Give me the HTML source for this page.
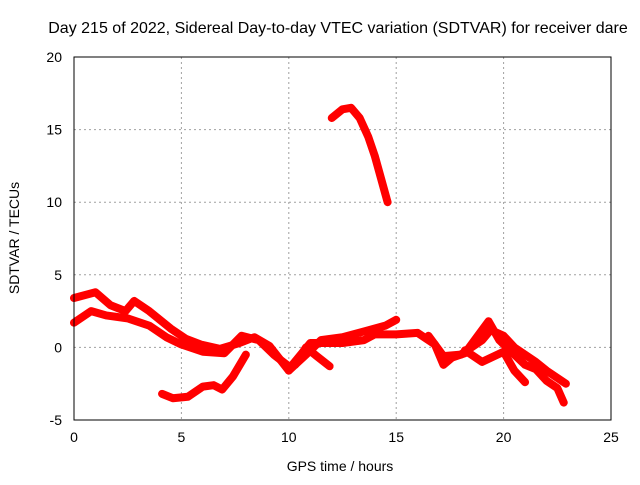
<!DOCTYPE html>
<html><head><meta charset="utf-8"><style>
body{margin:0;background:#fff;font-family:"Liberation Sans",sans-serif}
svg text{font-family:"Liberation Sans",sans-serif;font-size:14px;fill:#000}
</style></head><body>
<svg id="c" width="640" height="480">
<text x="338" y="33" text-anchor="middle" style="font-size:16px">Day 215 of 2022, Sidereal Day-to-day VTEC variation (SDTVAR) for receiver dare</text>
<text x="340" y="471" text-anchor="middle">GPS time / hours</text>
<text transform="translate(19,238) rotate(-90)" text-anchor="middle">SDTVAR / TECUs</text>
<g id="grid"></g><g id="data"></g>
<rect x="74" y="57" width="537" height="363" fill="none" stroke="#000" stroke-width="1"/>
</svg>
<script>
const xTicks=[0,5,10,15,20,25];
const yTicks=[-5,0,5,10,15,20];
const seriesArc=[[12,15.8],[12.5,16.4],[12.9,16.5],[13.3,15.8],[13.7,14.5],[14,13.2],[14.3,11.6],[14.6,10]];
const seriesA=[[0,3.4],[1,3.8],[1.7,2.9],[2.4,2.5],[2.8,3.2],[3.5,2.5],[4.5,1.3],[5.2,0.6],[5.9,0.2],[6.8,-0.1],[7.7,0.3],[8.4,0.7],[9.1,0.1],[10,-1.6]];
const seriesB=[[0,1.7],[0.8,2.5],[1.5,2.2],[2.5,2.0],[3.5,1.5],[4.3,0.7],[5,0.2],[6,-0.3],[7,-0.4],[7.8,0.8],[8.6,0.5],[9.3,-0.5],[10,-1.3]];
const seriesC=[[4.1,-3.2],[4.6,-3.5],[5.3,-3.4],[6,-2.7],[6.5,-2.6],[6.9,-2.9],[7.4,-2.0],[7.8,-1.0],[8,-0.5]];
const seriesD=[[10,-1.6],[10.8,-0.5],[11.5,0.5],[12.5,0.7],[13.5,1.1],[14.5,1.5],[15,1.9]];
const seriesE=[[10.3,-1.2],[10.8,0],[11.3,-0.6],[11.9,-1.3]];
const seriesF=[[10,-1.5],[11,0.3],[12.5,0.3],[13.5,0.5],[14,0.9],[15,0.9],[16,1.0],[16.8,0.2],[17.2,-1.2],[17.6,-0.7],[18.2,-0.4],[18.8,0.8],[19.3,1.8],[19.8,0.5],[20.5,-0.5],[21,-1.2],[21.5,-1.5],[22,-2.3],[22.5,-2.8],[22.8,-3.8]];
const seriesG=[[16.5,0.8],[17.2,-0.6],[18,-0.5],[19,0.5],[19.4,1.2],[20,0.8],[20.5,0],[21.5,-1.0],[22,-1.6],[22.9,-2.5]];
const seriesH=[[18.2,-0.2],[19,-1.0],[20,-0.3],[20.5,-1.6],[21,-2.4]];
const allSeries=[seriesArc,seriesA,seriesB,seriesC,seriesD,seriesE,seriesF,seriesG,seriesH];
const X=v=>74+v*(537/25), Y=v=>420-(v+5)*(363/25);
const NS='http://www.w3.org/2000/svg';
const g=document.getElementById('grid'), d=document.getElementById('data');
function mk(t,a,p){const e=document.createElementNS(NS,t);for(const k in a)e.setAttribute(k,a[k]);p.appendChild(e);return e;}
xTicks.forEach(t=>{
 if(t>0&&t<25){const l=mk('line',{x1:X(t),x2:X(t),y1:57,y2:420,stroke:'#a0a0a0','stroke-dasharray':'2,3'},g);
 
 }
 const s=mk('text',{x:X(t),y:442,'text-anchor':'middle'},g);s.textContent=t;
 
 
});
yTicks.forEach(t=>{
 if(t>-5&&t<20){const l=mk('line',{x1:74,x2:611,y1:Y(t),y2:Y(t),stroke:'#a0a0a0','stroke-dasharray':'2,3'},g);
 
 }
 const s=mk('text',{x:62,y:Y(t)+5,'text-anchor':'end'},g);s.textContent=t;
 
 
});
allSeries.forEach(s=>{
 const p=mk('polyline',{points:s.map(q=>X(q[0])+','+Y(q[1])).join(' '),fill:'none',stroke:'#ff0000','stroke-width':8,'stroke-linejoin':'round','stroke-linecap':'round'},d);
 
 
});
</script>
</body></html>
